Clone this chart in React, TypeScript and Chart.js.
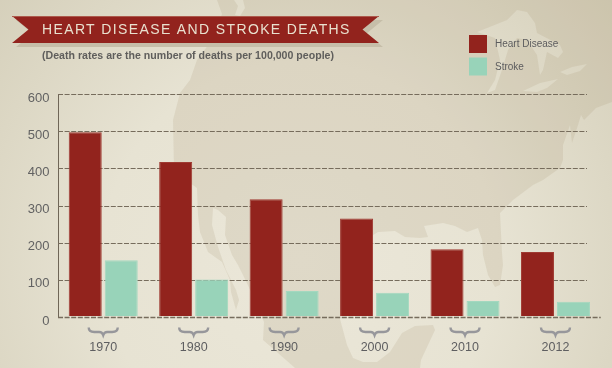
import React, { useEffect, useRef } from "react";
import { Chart, registerables } from "chart.js";

Chart.register(...registerables);

const years = ["1970", "1980", "1990", "2000", "2010", "2012"];
const heartDisease = [497, 417, 317, 265, 182, 175];
const stroke = [153, 101, 70, 65, 43, 41];
const yTicks = [0, 100, 200, 300, 400, 500, 600];
const titleText = "HEART DISEASE AND STROKE DEATHS";
const subtitleText = "(Death rates are the number of deaths per 100,000 people)";

const HEART = "#92231d";
const STROKE = "#98d3b9";
const FONT = '"Liberation Sans", Arial, sans-serif';

const LAND =
  "M217,0 L222,14 L212,40 L197,60 L190,80 L180,93 L173,120 L174,170 L190,183 L197,188 L198,215 L200,232 L208,252 L222,262 L230,280 L231,292 L236,310 L239,300 L236,290 L226,270 L218,247 L212,225 L213,208 L218,210 L226,217 L225,235 L232,255 L238,265 L243,275 L255,300 L264,322 L263,340 L278,353 L295,368 L420,368 L421,360 L428,345 L435,330 L433,325 L415,326 L402,333 L390,352 L377,362 L363,362 L353,358 L347,345 L340,319 L345,285 L352,258 L365,240 L378,232 L395,231 L405,237 L420,238 L428,237 L424,226 L443,223 L455,226 L467,232 L478,228 L482,240 L483,255 L488,275 L495,287 L500,285 L503,265 L502,253 L500,213 L513,200 L533,185 L543,180 L560,168 L563,160 L563,145 L570,125 L572,143 L578,125 L581,115 L584,120 L596,108 L612,102 L612,0 Z " +
  "M487,93 L495,80 L500,60 L495,38 L477,32 L507,20 L517,10 L527,12 L535,23 L537,33 L560,45 L563,52 L558,58 L547,52 L543,70 L540,75 L537,55 L527,40 L517,38 L508,50 L502,70 L495,90 Z " +
  "M560,72 L572,67 L587,64 L580,71 L567,75 Z " +
  "M523,91 L540,83 L558,79 L547,88 L537,92 Z " +
  "M234,0 L243,0 L245,8 L240,16 L235,15 L238,6 Z";

const BANNER_L = 12, BANNER_R = 379, BANNER_T = 16, BANNER_B = 43, NOTCH = 16.5;

function bannerPath(ctx: CanvasRenderingContext2D, dx: number, dy: number) {
  const midY = (BANNER_T + BANNER_B) / 2;
  ctx.beginPath();
  ctx.moveTo(BANNER_L + dx, BANNER_T + dy);
  ctx.lineTo(BANNER_R + dx, BANNER_T + dy);
  ctx.lineTo(BANNER_R - NOTCH + dx, midY + dy);
  ctx.lineTo(BANNER_R + dx, BANNER_B + dy);
  ctx.lineTo(BANNER_L + dx, BANNER_B + dy);
  ctx.lineTo(BANNER_L + NOTCH + dx, midY + dy);
  ctx.closePath();
}

const decorPlugin = {
  id: "decor",
  beforeDatasetsDraw(chart: any) {
    const { ctx, scales } = chart;
    ctx.save();
    ctx.strokeStyle = "#766c5c";
    ctx.lineWidth = 1.2;
    ctx.setLineDash([5, 1.6]);
    for (const v of yTicks) {
      if (v === 0) continue;
      const y = Math.round(scales.y.getPixelForValue(v)) + 0.5;
      ctx.beginPath();
      ctx.moveTo(scales.y.right, y);
      ctx.lineTo(587, y);
      ctx.stroke();
    }
    ctx.restore();
  },
  afterDatasetsDraw(chart: any) {
    const { ctx, scales, data } = chart;
    ctx.save();
    // baseline
    const y0 = Math.round(scales.y.getPixelForValue(0)) + 0.5;
    ctx.strokeStyle = "#766c5c";
    ctx.lineWidth = 1.5;
    ctx.setLineDash([5, 1.6]);
    ctx.beginPath();
    ctx.moveTo(scales.x.left, y0);
    ctx.lineTo(scales.x.right, y0);
    ctx.stroke();
    ctx.setLineDash([]);

    // braces under each category
    ctx.strokeStyle = "#97979b";
    ctx.lineWidth = 2.4;
    years.forEach((_, i) => {
      const x = scales.x.getPixelForValue(i);
      const top = 327.5, mid = 332, tip = 335;
      ctx.beginPath();
      ctx.moveTo(x - 14.5, top);
      ctx.quadraticCurveTo(x - 14.5, mid, x - 9, mid);
      ctx.lineTo(x - 4, mid);
      ctx.quadraticCurveTo(x - 1, mid, x, tip);
      ctx.quadraticCurveTo(x + 1, mid, x + 4, mid);
      ctx.lineTo(x + 9, mid);
      ctx.quadraticCurveTo(x + 14.5, mid, x + 14.5, top);
      ctx.stroke();
    });

    // banner
    ctx.fillStyle = "#c6bea9";
    bannerPath(ctx, 4, 4);
    ctx.fill();
    ctx.fillStyle = HEART;
    bannerPath(ctx, 0, 0);
    ctx.fill();
    ctx.fillStyle = "#ad5a4c";
    ctx.fillRect(BANNER_L, BANNER_T, BANNER_R - BANNER_L, 1);

    ctx.textBaseline = "middle";
    ctx.textAlign = "left";
    ctx.fillStyle = "#e9e1cf";
    ctx.font = `14px ${FONT}`;
    (ctx as any).letterSpacing = "1.37px";
    ctx.fillText(titleText, 42, 30.5);
    (ctx as any).letterSpacing = "0px";

    ctx.fillStyle = "#5f5e5c";
    ctx.font = `bold 10.6px ${FONT}`;
    ctx.fillText(subtitleText, 42, 56);

    // legend
    const rows = [
      { top: 35, ds: data.datasets[0] },
      { top: 57.5, ds: data.datasets[1] },
    ];
    rows.forEach(({ top, ds }) => {
      ctx.fillStyle = ds.backgroundColor;
      ctx.fillRect(469, top, 18, 18);
      ctx.fillStyle = "#5c5c5e";
      ctx.font = `10px ${FONT}`;
      ctx.fillText(ds.label, 495, top + 9.5);
    });
    ctx.restore();
  },
};

export default function App() {
  const ref = useRef<HTMLCanvasElement>(null);
  useEffect(() => {
    const chart = new Chart(ref.current!, {
      type: "bar",
      data: {
        labels: years,
        datasets: [
          {
            label: "Heart Disease",
            data: heartDisease,
            backgroundColor: HEART,
            borderColor: "#9f3a32",
            borderWidth: 1,
            base: 2.5,
            categoryPercentage: 0.796,
            barPercentage: 0.917,
          },
          {
            label: "Stroke",
            data: stroke,
            backgroundColor: STROKE,
            borderColor: "#a3d8bf",
            borderWidth: 1,
            base: 2.5,
            categoryPercentage: 0.796,
            barPercentage: 0.917,
          },
        ],
      },
      options: {
        responsive: false,
        animation: false,
        layout: { padding: { left: 0, top: 94, right: 11.3, bottom: 0 } },
        plugins: { legend: { display: false }, title: { display: false }, tooltip: { enabled: false } },
        scales: {
          x: {
            grid: { display: false, drawTicks: false },
            border: { display: false },
            ticks: { color: "#5e5e60", font: { family: FONT, size: 12.5 }, padding: 23, maxRotation: 0 },
            afterFit: (s: any) => { s.height = 51; },
          },
          y: {
            min: 0,
            max: 600,
            grid: { display: false, drawTicks: false },
            border: { display: true, color: "#6f6657", width: 1 },
            ticks: {
              stepSize: 100,
              color: "#626262",
              font: { family: FONT, size: 13 },
              padding: 8.5,
              labelOffset: 4,
            },
            afterFit: (s: any) => { s.width = 58; },
          },
        },
      },
      plugins: [decorPlugin],
    } as any);
    return () => chart.destroy();
  }, []);
  return (
    <div style={{ position: "absolute", left: 0, top: 0, width: 612, height: 368, overflow: "hidden" }}>
      <svg width={612} height={368} style={{ position: "absolute", left: 0, top: 0 }}>
        <defs>
          <radialGradient id="sea" gradientUnits="userSpaceOnUse" cx={300} cy={260} r={440}>
            <stop offset="0" stopColor="#ebe7d9" />
            <stop offset="0.45" stopColor="#e7e3d3" />
            <stop offset="1" stopColor="#d2ccb6" />
          </radialGradient>
        </defs>
        <rect width={612} height={368} fill="url(#sea)" />
        <path d={LAND} fill="#967f55" fillOpacity={0.13} fillRule="evenodd" />
      </svg>
      <canvas ref={ref} width={612} height={368} style={{ position: "absolute", left: 0, top: 0 }} />
    </div>
  );
}
